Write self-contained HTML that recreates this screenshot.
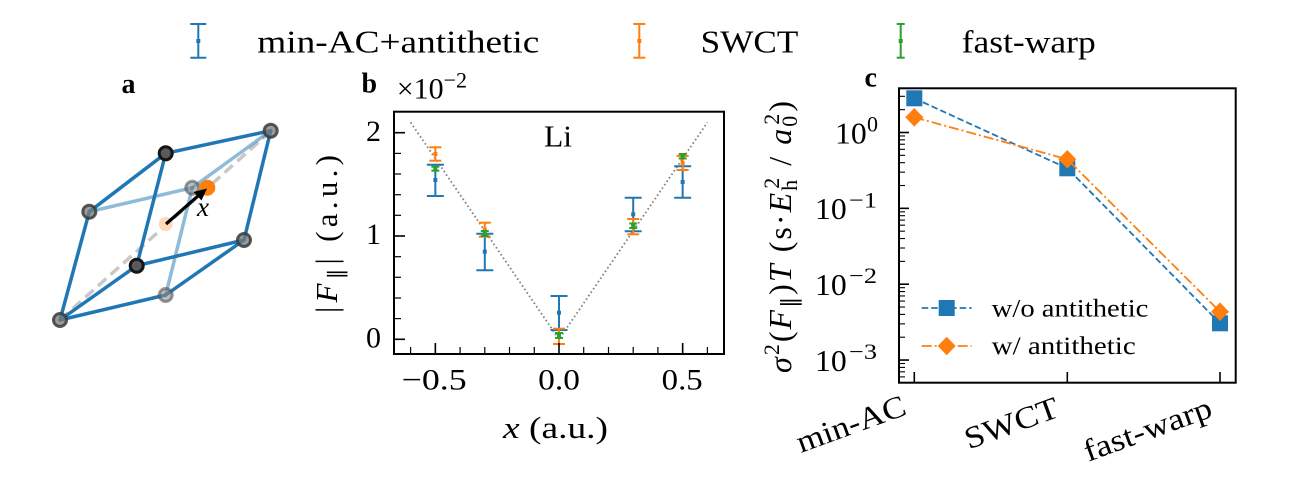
<!DOCTYPE html>
<html><head><meta charset="utf-8">
<style>
html,body{margin:0;padding:0;background:#fff;font-family:"Liberation Serif","Times New Roman",Times,serif}
svg{display:block}
svg text{font-family:"Liberation Serif","Times New Roman",Times,serif;fill:#000}
</style></head>
<body>
<svg width="1300" height="500" viewBox="0 0 1300 500" xmlns="http://www.w3.org/2000/svg" font-family="Liberation Serif, Times New Roman, Times, serif">
<rect width="1300" height="500" fill="#fff"/>

<!-- ===== Top legend ===== -->
<g stroke-width="2">
  <g stroke="#1f77b4"><line x1="198.3" y1="24" x2="198.3" y2="57.7"/><line x1="190.3" y1="24" x2="206.3" y2="24"/><line x1="190.3" y1="57.7" x2="206.3" y2="57.7"/></g>
  <rect x="196.3" y="39" width="4" height="4" fill="#1f77b4"/>
  <g stroke="#ff7f0e"><line x1="639.3" y1="24" x2="639.3" y2="57.7"/><line x1="633.3" y1="24" x2="645.3" y2="24"/><line x1="633.3" y1="57.7" x2="645.3" y2="57.7"/></g>
  <rect x="637.3" y="39" width="4" height="4" fill="#ff7f0e"/>
  <g stroke="#2ca02c"><line x1="900.7" y1="24" x2="900.7" y2="57.7"/><line x1="896.7" y1="24" x2="904.7" y2="24"/><line x1="896.7" y1="57.7" x2="904.7" y2="57.7"/></g>
  <rect x="898.7" y="39" width="4" height="4" fill="#2ca02c"/>
</g>
<text x="257.3" y="52.7" font-size="32" textLength="282" lengthAdjust="spacingAndGlyphs">min-AC+antithetic</text>
<text x="700.7" y="52.7" font-size="32" textLength="97.6" lengthAdjust="spacingAndGlyphs">SWCT</text>
<text x="961.7" y="52.7" font-size="32" textLength="134" lengthAdjust="spacingAndGlyphs">fast-warp</text>

<!-- ===== Panel a ===== -->
<text x="121.5" y="93" font-size="28" font-weight="bold">a</text>
<line x1="60" y1="320" x2="271" y2="131" stroke="#c8c8c8" stroke-width="3.5" stroke-dasharray="11 6"/>
<g stroke="#1f77b4" stroke-width="3.5" stroke-opacity="0.5" stroke-linecap="round">
  <line x1="89.3" y1="211.7" x2="192.3" y2="187.7"/>
  <line x1="192.3" y1="187.7" x2="270.7" y2="130.7"/>
  <line x1="192.3" y1="187.7" x2="165.7" y2="295"/>
</g>
<g stroke="#1f77b4" stroke-width="3.5" stroke-linecap="round">
  <line x1="60" y1="320" x2="89.3" y2="211.7"/>
  <line x1="60" y1="320" x2="136.7" y2="265.7"/>
  <line x1="60" y1="320" x2="165.7" y2="295"/>
  <line x1="89.3" y1="211.7" x2="165.7" y2="153.3"/>
  <line x1="165.7" y1="153.3" x2="270.7" y2="130.7"/>
  <line x1="165.7" y1="153.3" x2="136.7" y2="265.7"/>
  <line x1="270.7" y1="130.7" x2="244" y2="240"/>
  <line x1="244" y1="240" x2="136.7" y2="265.7"/>
  <line x1="244" y1="240" x2="165.7" y2="295"/>
</g>
<g fill="#7a7a7a" fill-opacity="0.75" stroke="#3c3c3c" stroke-opacity="0.85" stroke-width="3">
  <circle cx="60" cy="320" r="6.5"/>
  <circle cx="89.3" cy="211.7" r="6.5"/>
  <circle cx="270.7" cy="130.7" r="6.5"/>
  <circle cx="244" cy="240" r="6.5"/>
</g>
<g fill="#8a8a8a" fill-opacity="0.55" stroke="#555" stroke-opacity="0.6" stroke-width="3">
  <circle cx="165.7" cy="295" r="6.5"/>
  <circle cx="192.3" cy="187.7" r="6.5"/>
</g>
<g fill="#5a5a5a" stroke="#151515" stroke-width="3">
  <circle cx="165.7" cy="153.3" r="6.5"/>
  <circle cx="136.7" cy="265.7" r="6.5"/>
</g>
<circle cx="165.7" cy="224" r="7" fill="#ffd9b8"/>
<circle cx="207.3" cy="187.7" r="8" fill="#ff7f0e"/>
<line x1="166" y1="224" x2="198" y2="196" stroke="#000" stroke-width="3.2"/>
<polygon points="207,188.5 201.5,200.5 193.5,192" fill="#000"/>
<text x="197" y="216" font-size="27" font-style="italic">x</text>

<!-- ===== Panel b ===== -->
<text x="361.5" y="92.5" font-size="28" font-weight="bold">b</text>
<text x="396.7" y="98.3" font-size="30">×10<tspan font-size="22" dy="-11">−2</tspan></text>

<polyline points="410.6,122.4 559,339.3 707.4,122.4" fill="none" stroke="#808080" stroke-width="1.8" stroke-dasharray="1.6 2.6"/>

<g stroke="#1f77b4" stroke-width="2">
  <line x1="435.35" y1="164.7" x2="435.35" y2="196"/><line x1="426.85" y1="164.7" x2="443.85" y2="164.7"/><line x1="426.85" y1="196" x2="443.85" y2="196"/>
  <line x1="484.8" y1="233.7" x2="484.8" y2="270.3"/><line x1="476.3" y1="233.7" x2="493.3" y2="233.7"/><line x1="476.3" y1="270.3" x2="493.3" y2="270.3"/>
  <line x1="559" y1="296" x2="559" y2="330"/><line x1="550.5" y1="296" x2="567.5" y2="296"/><line x1="550.5" y1="330" x2="567.5" y2="330"/>
  <line x1="633.2" y1="197.7" x2="633.2" y2="231.3"/><line x1="624.7" y1="197.7" x2="641.7" y2="197.7"/><line x1="624.7" y1="231.3" x2="641.7" y2="231.3"/>
  <line x1="682.65" y1="166.3" x2="682.65" y2="197.7"/><line x1="674.15" y1="166.3" x2="691.15" y2="166.3"/><line x1="674.15" y1="197.7" x2="691.15" y2="197.7"/>
</g>
<g fill="#1f77b4">
  <rect x="433.35" y="178" width="4" height="4"/>
  <rect x="482.8" y="249.7" width="4" height="4"/>
  <rect x="557" y="310.7" width="4" height="4"/>
  <rect x="631.2" y="212.3" width="4" height="4"/>
  <rect x="680.65" y="180" width="4" height="4"/>
</g>
<g stroke="#ff7f0e" stroke-width="2">
  <line x1="435.35" y1="147.3" x2="435.35" y2="160.7"/><line x1="429.35" y1="147.3" x2="441.35" y2="147.3"/><line x1="429.35" y1="160.7" x2="441.35" y2="160.7"/>
  <line x1="484.8" y1="222.7" x2="484.8" y2="236.7"/><line x1="478.8" y1="222.7" x2="490.8" y2="222.7"/><line x1="478.8" y1="236.7" x2="490.8" y2="236.7"/>
  <line x1="559" y1="328.7" x2="559" y2="344"/><line x1="553" y1="328.7" x2="565" y2="328.7"/><line x1="553" y1="344" x2="565" y2="344"/>
  <line x1="633.2" y1="219" x2="633.2" y2="234.3"/><line x1="627.2" y1="219" x2="639.2" y2="219"/><line x1="627.2" y1="234.3" x2="639.2" y2="234.3"/>
  <line x1="682.65" y1="156" x2="682.65" y2="170"/><line x1="676.65" y1="156" x2="688.65" y2="156"/><line x1="676.65" y1="170" x2="688.65" y2="170"/>
</g>
<g fill="#ff7f0e">
  <rect x="433.35" y="152" width="4" height="4"/>
  <rect x="482.8" y="227.7" width="4" height="4"/>
  <rect x="557" y="334.3" width="4" height="4"/>
  <rect x="631.2" y="224.7" width="4" height="4"/>
  <rect x="680.65" y="161" width="4" height="4"/>
</g>
<g stroke="#2ca02c" stroke-width="2">
  <line x1="435.35" y1="166.7" x2="435.35" y2="170.7"/><line x1="431.35" y1="166.7" x2="439.35" y2="166.7"/><line x1="431.35" y1="170.7" x2="439.35" y2="170.7"/>
  <line x1="484.8" y1="231" x2="484.8" y2="236"/><line x1="480.8" y1="231" x2="488.8" y2="231"/><line x1="480.8" y1="236" x2="488.8" y2="236"/>
  <line x1="559" y1="333" x2="559" y2="338"/><line x1="555" y1="333" x2="563" y2="333"/><line x1="555" y1="338" x2="563" y2="338"/>
  <line x1="633.2" y1="223.5" x2="633.2" y2="228"/><line x1="629.2" y1="223.5" x2="637.2" y2="223.5"/><line x1="629.2" y1="228" x2="637.2" y2="228"/>
  <line x1="682.65" y1="154" x2="682.65" y2="158.5"/><line x1="678.65" y1="154" x2="686.65" y2="154"/><line x1="678.65" y1="158.5" x2="686.65" y2="158.5"/>
</g>
<g fill="#2ca02c">
  <rect x="433.35" y="166.7" width="4" height="4"/>
  <rect x="482.8" y="231.5" width="4" height="4"/>
  <rect x="557" y="333.5" width="4" height="4"/>
  <rect x="631.2" y="223.7" width="4" height="4"/>
  <rect x="680.65" y="154.3" width="4" height="4"/>
</g>

<text x="544" y="146.7" font-size="31" textLength="28" lengthAdjust="spacingAndGlyphs">Li</text>

<rect x="394" y="111.7" width="330" height="242.3" fill="none" stroke="#000" stroke-width="2"/>
<g stroke="#000" stroke-width="1.6">
  <line x1="435.35" y1="354" x2="435.35" y2="343"/>
  <line x1="559" y1="354" x2="559" y2="343"/>
  <line x1="682.65" y1="354" x2="682.65" y2="343"/>
</g>
<g stroke="#000" stroke-width="1.2">
  <line x1="410.6" y1="354" x2="410.6" y2="347"/>
  <line x1="460.1" y1="354" x2="460.1" y2="347"/>
  <line x1="484.8" y1="354" x2="484.8" y2="347"/>
  <line x1="509.5" y1="354" x2="509.5" y2="347"/>
  <line x1="534.3" y1="354" x2="534.3" y2="347"/>
  <line x1="583.7" y1="354" x2="583.7" y2="347"/>
  <line x1="608.5" y1="354" x2="608.5" y2="347"/>
  <line x1="633.2" y1="354" x2="633.2" y2="347"/>
  <line x1="657.9" y1="354" x2="657.9" y2="347"/>
  <line x1="707.4" y1="354" x2="707.4" y2="347"/>
</g>
<g stroke="#000" stroke-width="1.6">
  <line x1="394" y1="339.3" x2="405" y2="339.3"/>
  <line x1="394" y1="236" x2="405" y2="236"/>
  <line x1="394" y1="132.7" x2="405" y2="132.7"/>
</g>
<g stroke="#000" stroke-width="1.2">
  <line x1="394" y1="318.6" x2="401" y2="318.6"/>
  <line x1="394" y1="298" x2="401" y2="298"/>
  <line x1="394" y1="277.3" x2="401" y2="277.3"/>
  <line x1="394" y1="256.7" x2="401" y2="256.7"/>
  <line x1="394" y1="215.3" x2="401" y2="215.3"/>
  <line x1="394" y1="194.7" x2="401" y2="194.7"/>
  <line x1="394" y1="174" x2="401" y2="174"/>
  <line x1="394" y1="153.4" x2="401" y2="153.4"/>
</g>
<g font-size="30" text-anchor="end">
  <text x="381" y="347.5">0</text>
  <text x="381" y="244.2">1</text>
  <text x="381" y="140.9">2</text>
</g>
<text x="401.7" y="389.3" font-size="30" textLength="65" lengthAdjust="spacingAndGlyphs">−0.5</text>
<text x="538.2" y="389.3" font-size="30" textLength="41.7" lengthAdjust="spacingAndGlyphs">0.0</text>
<text x="661.7" y="389.3" font-size="30" textLength="41" lengthAdjust="spacingAndGlyphs">0.5</text>
<text x="503" y="438" font-size="31" textLength="105" lengthAdjust="spacingAndGlyphs"><tspan font-style="italic">x</tspan> (a.u.)</text>
<text transform="translate(337,234) rotate(-90)" font-size="31" text-anchor="middle" textLength="158" lengthAdjust="spacing">|<tspan font-style="italic">F</tspan><tspan font-size="21" dy="6">∥</tspan><tspan dy="-6">|</tspan> (a.u.)</text>

<!-- ===== Panel c ===== -->
<text x="864.5" y="86.7" font-size="28" font-weight="bold">c</text>

<polyline points="914.3,98.3 1067.3,168.3 1220,323.3" fill="none" stroke="#1f77b4" stroke-width="1.8" stroke-dasharray="6.5 3"/>
<g fill="#1f77b4">
  <rect x="906.3" y="90.3" width="16" height="16"/>
  <rect x="1059.3" y="160.3" width="16" height="16"/>
  <rect x="1212" y="315.3" width="16" height="16"/>
</g>
<polyline points="914.3,117.3 1067.3,159.3 1220,311.7" fill="none" stroke="#ff7f0e" stroke-width="1.8" stroke-dasharray="10 3 2 3"/>
<g fill="#ff7f0e">
  <polygon points="914.3,108 923.3,117.3 914.3,126.6 905.3,117.3"/>
  <polygon points="1067.3,150 1076.3,159.3 1067.3,168.6 1058.3,159.3"/>
  <polygon points="1220,302.4 1229,311.7 1220,321 1211,311.7"/>
</g>

<rect x="899" y="88.3" width="336.7" height="294.4" fill="none" stroke="#000" stroke-width="2"/>
<g stroke="#000" stroke-width="1.6">
  <line x1="914.3" y1="382.7" x2="914.3" y2="372"/>
  <line x1="1067.3" y1="382.7" x2="1067.3" y2="372"/>
  <line x1="1220" y1="382.7" x2="1220" y2="372"/>
</g>
<g stroke="#000" stroke-width="1.6">
  <line x1="899" y1="132.5" x2="909" y2="132.5"/>
  <line x1="899" y1="208.35" x2="909" y2="208.35"/>
  <line x1="899" y1="284.2" x2="909" y2="284.2"/>
  <line x1="899" y1="360.05" x2="909" y2="360.05"/>
</g>
<g stroke="#000" stroke-width="1.1">
  <line x1="899" y1="109.67" x2="905" y2="109.67"/>
  <line x1="899" y1="96.31" x2="905" y2="96.31"/>
  <line x1="899" y1="185.52" x2="905" y2="185.52"/>
  <line x1="899" y1="172.16" x2="905" y2="172.16"/>
  <line x1="899" y1="162.68" x2="905" y2="162.68"/>
  <line x1="899" y1="155.33" x2="905" y2="155.33"/>
  <line x1="899" y1="149.33" x2="905" y2="149.33"/>
  <line x1="899" y1="144.25" x2="905" y2="144.25"/>
  <line x1="899" y1="139.85" x2="905" y2="139.85"/>
  <line x1="899" y1="135.97" x2="905" y2="135.97"/>
  <line x1="899" y1="261.37" x2="905" y2="261.37"/>
  <line x1="899" y1="248.01" x2="905" y2="248.01"/>
  <line x1="899" y1="238.53" x2="905" y2="238.53"/>
  <line x1="899" y1="231.18" x2="905" y2="231.18"/>
  <line x1="899" y1="225.18" x2="905" y2="225.18"/>
  <line x1="899" y1="220.1" x2="905" y2="220.1"/>
  <line x1="899" y1="215.7" x2="905" y2="215.7"/>
  <line x1="899" y1="211.82" x2="905" y2="211.82"/>
  <line x1="899" y1="337.22" x2="905" y2="337.22"/>
  <line x1="899" y1="323.86" x2="905" y2="323.86"/>
  <line x1="899" y1="314.38" x2="905" y2="314.38"/>
  <line x1="899" y1="307.03" x2="905" y2="307.03"/>
  <line x1="899" y1="301.03" x2="905" y2="301.03"/>
  <line x1="899" y1="295.95" x2="905" y2="295.95"/>
  <line x1="899" y1="291.55" x2="905" y2="291.55"/>
  <line x1="899" y1="287.67" x2="905" y2="287.67"/>
  <line x1="899" y1="376.88" x2="905" y2="376.88"/>
  <line x1="899" y1="371.8" x2="905" y2="371.8"/>
  <line x1="899" y1="367.4" x2="905" y2="367.4"/>
  <line x1="899" y1="363.52" x2="905" y2="363.52"/>
</g>
<g font-size="31">
  <text x="835" y="143.3" textLength="31.7" lengthAdjust="spacingAndGlyphs">10</text>
  <text x="867" y="131.5" font-size="22">0</text>
  <text x="815" y="219.2" textLength="31.7" lengthAdjust="spacingAndGlyphs">10</text>
  <text x="849" y="207.3" font-size="22" textLength="28" lengthAdjust="spacingAndGlyphs">−1</text>
  <text x="815" y="295" textLength="31.7" lengthAdjust="spacingAndGlyphs">10</text>
  <text x="849" y="283.2" font-size="22" textLength="28" lengthAdjust="spacingAndGlyphs">−2</text>
  <text x="815" y="370.9" textLength="31.7" lengthAdjust="spacingAndGlyphs">10</text>
  <text x="849" y="359" font-size="22" textLength="28" lengthAdjust="spacingAndGlyphs">−3</text>
</g>
<text transform="translate(791,237) rotate(-90)" font-size="32" text-anchor="middle" textLength="272" lengthAdjust="spacing"><tspan font-style="italic">σ</tspan><tspan font-size="22" dy="-12">2</tspan><tspan dy="12">(</tspan><tspan font-style="italic">F</tspan><tspan font-size="22" dy="6">∥</tspan><tspan dy="-6">)</tspan><tspan font-style="italic">T</tspan> (s·<tspan font-style="italic">E</tspan><tspan font-size="22" dy="6">h</tspan><tspan font-size="22" dx="-11" dy="-18">2</tspan><tspan dy="12"> / </tspan><tspan font-style="italic">a</tspan><tspan font-size="22" dy="6">0</tspan><tspan font-size="22" dx="-11" dy="-18">2</tspan><tspan dy="12">)</tspan></text>

<g font-size="31" text-anchor="end">
  <text transform="translate(908,414) rotate(-20)" textLength="114" lengthAdjust="spacingAndGlyphs">min-AC</text>
  <text transform="translate(1061,416) rotate(-20)" textLength="98" lengthAdjust="spacingAndGlyphs">SWCT</text>
  <text transform="translate(1214,416) rotate(-20)" textLength="134" lengthAdjust="spacingAndGlyphs">fast-warp</text>
</g>

<line x1="921.7" y1="308" x2="971.7" y2="308" stroke="#1f77b4" stroke-width="1.8" stroke-dasharray="6.5 3"/>
<rect x="938.7" y="300" width="16" height="16" fill="#1f77b4"/>
<line x1="921.7" y1="346" x2="971.7" y2="346" stroke="#ff7f0e" stroke-width="1.8" stroke-dasharray="10 3 2 3"/>
<polygon points="946.7,336.7 955.7,346 946.7,355.3 937.7,346" fill="#ff7f0e"/>
<text x="991.7" y="316.7" font-size="25" textLength="156.7" lengthAdjust="spacingAndGlyphs">w/o antithetic</text>
<text x="991.7" y="354" font-size="25" textLength="144" lengthAdjust="spacingAndGlyphs">w/ antithetic</text>

</svg>
</body></html>
